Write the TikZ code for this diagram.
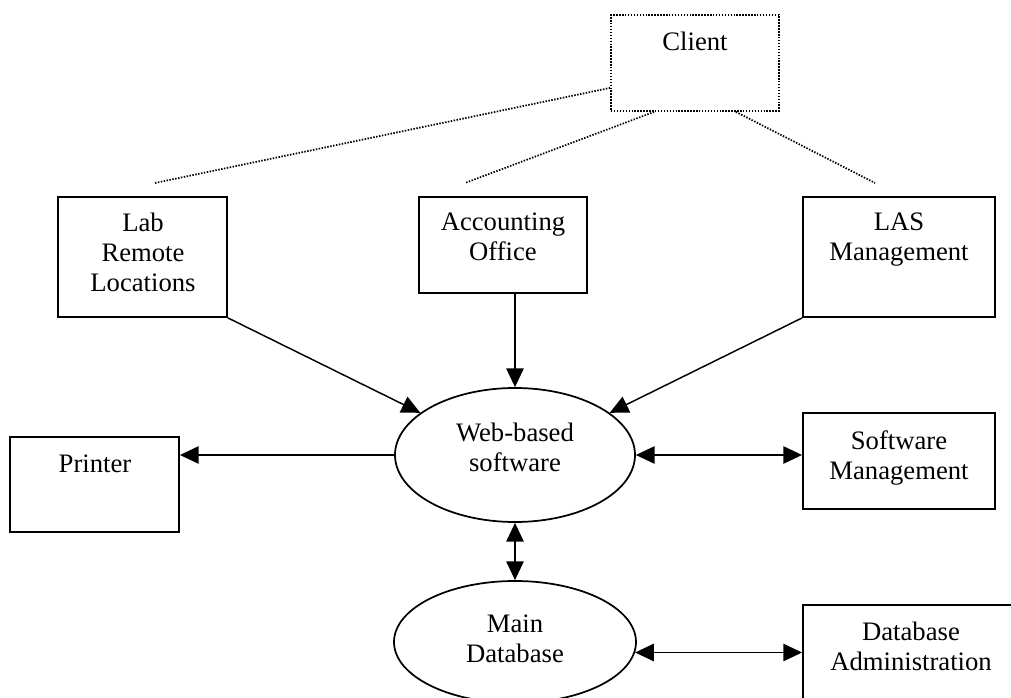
\documentclass[tikz,border=0pt]{standalone}
\usepackage{fontspec}
\setmainfont{Liberation Serif}
\usetikzlibrary{arrows.meta,shapes.geometric}
\begin{document}
\begin{tikzpicture}[x=0.75pt,y=-0.75pt,
  box/.style={draw, line width=1.4pt, rectangle, inner sep=0pt},
  oval/.style={draw, line width=1.3pt, ellipse, inner sep=0pt},
  txt/.style={inner sep=0pt, align=center, anchor=north,
    font=\fontsize{20pt}{22.5pt}\selectfont},
  tip/.tip={Triangle[length=14pt,width=13pt]},
  conn/.style={line width=1.1pt, -tip},
  both/.style={line width=1.1pt, tip-tip},
  dots/.style={line width=1.3pt, dash pattern=on 1.1pt off 1.1pt}]
\useasboundingbox (0,0) rectangle (1011,698);
\clip (0,0) rectangle (1011,698);

% client and the three groups
\node[box, dots, minimum width=168*0.75pt, minimum height=96*0.75pt] (client) at (695,63) {};
\node[txt] (clienttxt) at (695,32) {Client};

\node[box, minimum width=169*0.75pt, minimum height=120*0.75pt] (lab) at (142.5,257) {};
\node[txt] (labtxt) at (143,213) {Lab\\Remote\\Locations};

\node[box, minimum width=168*0.75pt, minimum height=96*0.75pt] (acc) at (503,245) {};
\node[txt] (acctxt) at (503,213) {Accounting\\Office};

\node[box, minimum width=192*0.75pt, minimum height=120*0.75pt] (las) at (899,257) {};
\node[txt] (lastxt) at (899,213) {LAS\\Management};

% central software and database
\node[oval, minimum width=240*0.75pt, minimum height=134*0.75pt] (web) at (515,455) {};
\node[txt] (webtxt) at (515,423) {Web-based\\software};

\node[oval, minimum width=242*0.75pt, minimum height=122*0.75pt] (main) at (515,642) {};
\node[txt] (maintxt) at (515,615) {Main\\Database};

% peripheral boxes
\node[box, minimum width=169*0.75pt, minimum height=95*0.75pt] (printer) at (94.5,484.5) {};
\node[txt] (printertxt) at (95,455) {Printer};

\node[box, minimum width=192*0.75pt, minimum height=96*0.75pt] (soft) at (899,461) {};
\node[txt] (softtxt) at (899,430) {Software\\Management};

\node[box, minimum width=216*0.75pt, minimum height=120*0.75pt] (dba) at (911,665) {};
\node[txt] (dbatxt) at (911,622) {Database\\Administration};

% dotted links from the client
\coordinate (d1) at (155,183);
\coordinate (d2) at (465,183);
\coordinate (d3) at (875,183);
\draw[dots] ([yshift=18pt]client.south west) -- (d1);
\draw[dots] ([xshift=33pt]client.south west) -- (d2);
\draw[dots] ([xshift=-33pt]client.south east) -- (d3);

% data flow
\draw[conn] (lab.south east) -- (web.156);
\draw[conn] (web.north |- acc.south) -- (web.north);
\draw[conn] (las.south west) -- (web.24);
\draw[conn] (web.west) -- (web.west -| printer.east);
\draw[both] (web.east) -- (web.east -| soft.west);
\draw[both] (web.south) -- (main.north);
\draw[both] (main.-5) -- (main.-5 -| dba.west);
\end{tikzpicture}
\end{document}
